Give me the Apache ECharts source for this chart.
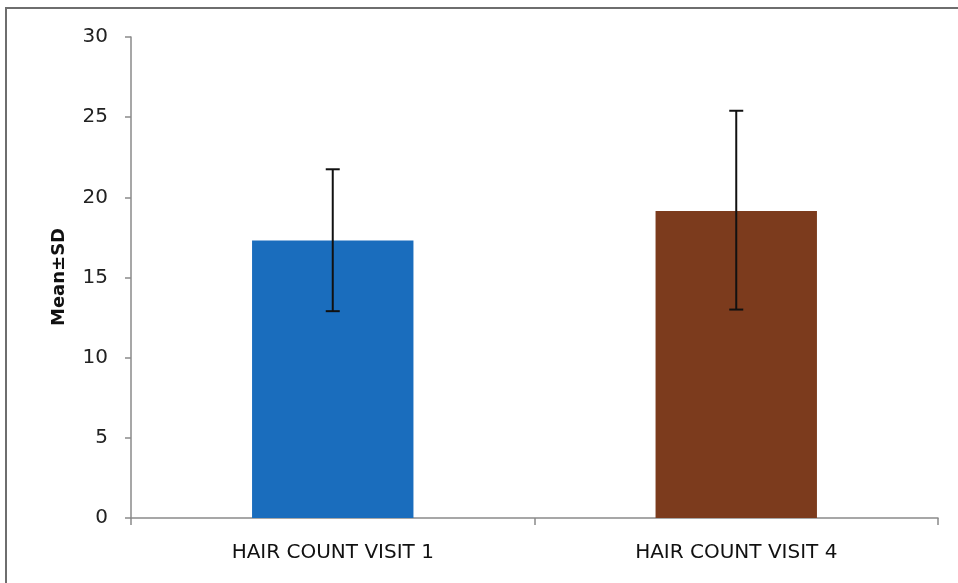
<!DOCTYPE html>
<html><head><meta charset="utf-8">
<script src="https://cdn.jsdelivr.net/npm/echarts@6/dist/echarts.min.js"></script>
<style>html,body{margin:0;padding:0;background:#fff}#c{width:958px;height:583px}</style>
</head><body><div id="c"></div>
<script>
const categories = ['HAIR COUNT VISIT 1', 'HAIR COUNT VISIT 4'];
const means = [17.3, 19.15];
const errLow = [12.9, 13.0];
const errHigh = [21.75, 25.4];
const barColors = ['#1a6dbd', '#7c3b1d'];
const yTicks = [0, 30, 5];
const yName = 'Mean±SD';

const chart = echarts.init(document.getElementById('c'));
chart.setOption({
  animation: false,
  backgroundColor: '#fff',
  graphic: [
    {type:'rect', shape:{x:6,y:8,width:1000,height:1000}, style:{fill:'none', stroke:'#6e6e6e', lineWidth:2}, z:-1},
    {type:'text', x:59, y:277, rotation:Math.PI/2, style:{text:yName, fontFamily:'DejaVu Sans', fontWeight:'bold', fontSize:18, fill:'#111', align:'center', verticalAlign:'middle'}}
  ],
  grid: {left: 131, right: 20, top: 37, bottom: 65},
  xAxis: {
    type: 'category', data: categories,
    axisLine: {lineStyle: {color: '#8a8a8a', width: 1.5}},
    axisTick: {show: true, length: 7, lineStyle: {color: '#8a8a8a', width: 1.5}},
    axisLabel: {color: '#111', fontSize: 20, fontFamily: 'DejaVu Sans', margin: 25}
  },
  yAxis: {
    type: 'value', min: yTicks[0], max: yTicks[1], interval: yTicks[2],
    axisLine: {show: true, lineStyle: {color: '#8a8a8a', width: 1.5}},
    axisTick: {show: true, length: 6, lineStyle: {color: '#8a8a8a', width: 1.5}},
    splitLine: {show: false},
    axisLabel: {color: '#222', fontSize: 20, fontFamily: 'DejaVu Sans', margin: 23}
  },
  series: [{
    type: 'bar', barWidth: '40%',
    data: means.map((v, i) => ({value: v, itemStyle: {color: barColors[i]}}))
  }, {
    type: 'custom',
    data: categories.map((c, i) => [i, errLow[i], errHigh[i]]),
    z: 10,
    renderItem: function (params, api) {
      const x = api.value(0);
      const lo = api.coord([x, api.value(1)]);
      const hi = api.coord([x, api.value(2)]);
      const w = 7;
      const st = {stroke: '#111', lineWidth: 2};
      return {type: 'group', children: [
        {type: 'line', shape: {x1: lo[0], y1: lo[1], x2: hi[0], y2: hi[1]}, style: st},
        {type: 'line', shape: {x1: lo[0]-w, y1: lo[1], x2: lo[0]+w, y2: lo[1]}, style: st},
        {type: 'line', shape: {x1: hi[0]-w, y1: hi[1], x2: hi[0]+w, y2: hi[1]}, style: st}
      ]};
    }
  }]
});
</script></body></html>
